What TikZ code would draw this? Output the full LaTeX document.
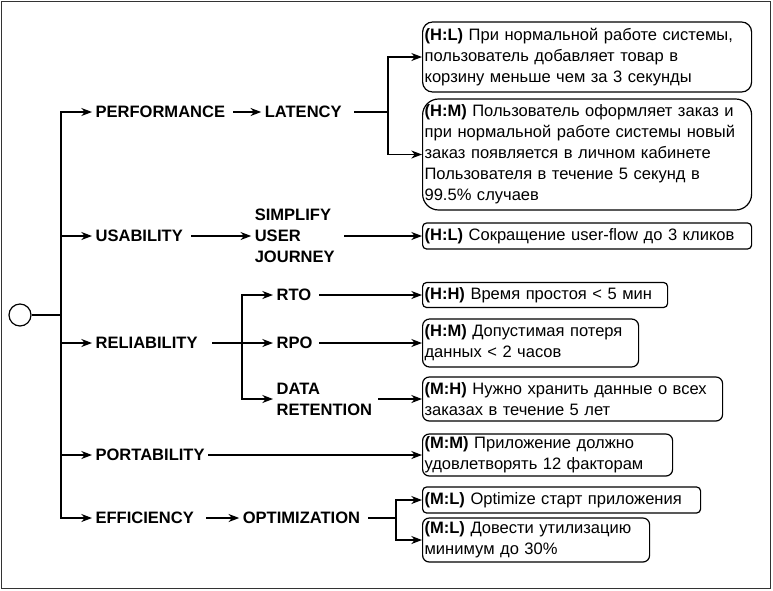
\documentclass[tikz,border=0pt]{standalone}
\usepackage{fontspec}
\setmainfont{Liberation Sans}
\usepackage{tikz}
\usetikzlibrary{positioning}
\usetikzlibrary{arrows.meta}
\newcommand{\diagfont}{\fontsize{12.4}{15.75}\selectfont}
\tikzset{
root/.style={draw,circle,minimum size=16.5pt,inner sep=0pt},
attr/.style={font=\diagfont\bfseries,align=left,inner xsep=2.25pt,inner ysep=0pt},
req/.style={draw,rounded corners=#1,align=left,anchor=west,inner xsep=1.5pt,inner ysep=0pt},
req/.default=3pt,
flow/.style={-{Stealth[length=8pt,width=6pt,inset=2.5pt]}},
frame/.style={draw=black!80,line width=0.75pt},
}

\begin{document}
\begin{tikzpicture}[x=0.75pt,y=-0.75pt,line width=0.9pt,font=\diagfont]
\useasboundingbox (0,0) rectangle (773,590);
\draw[frame] (1.5,1.5) rectangle (770.5,588);

\node[root] (root) at (20,315) {};
\coordinate (tr) at (61,315);

%
\node[attr,anchor=west,text width=100.5pt] (perf) at (92,112) {PERFORMANCE};
\node[attr,text width=64.5pt,right=21pt of perf] (lat) {LATENCY};
\coordinate (lj) at (388,112);
\node[req=7.5pt,text width=243.75pt,minimum height=52.5pt] (lat1) at (422,57)
  {\textbf{(H:L)} При нормальной работе системы,\\пользователь добавляет товар в\\корзину меньше чем за 3 секунды};
\node[req=12pt,text width=243.75pt,minimum height=83.25pt] (lat2) at (422,154.5)
  {\textbf{(H:M)} Пользователь оформляет заказ и\\при нормальной работе системы новый\\заказ появляется в личном кабинете\\Пользователя в течение 5 секунд в\\99.5\% случаев};

%
\node[attr,anchor=west,text width=69pt] (usab) at (92,236) {USABILITY};
\node[attr,text width=64.5pt,right=45pt of usab] (suj) {SIMPLIFY\\USER\\JOURNEY};
\node[req,text width=243.75pt,minimum height=19.5pt] (usr) at (422,236)
  {\textbf{(H:L)} Сокращение user-flow до 3 кликов};

%
\node[attr,anchor=west,text width=84.75pt] (reli) at (92,343) {RELIABILITY};
\coordinate (rj) at (242,343);
\node[attr,anchor=west,text width=29.25pt] (rto) at (273,295) {RTO};
\node[attr,anchor=west,text width=29.25pt] (rpo) at (273,343) {RPO};
\node[attr,anchor=west,text width=73.5pt] (ret) at (273,399) {DATA\\RETENTION};
\node[req,text width=180.75pt,minimum height=18.75pt] (rtob) at (422,295)
  {\textbf{(H:H)} Время простоя < 5 мин};
\node[req=5.25pt,text width=159pt,minimum height=36pt] (rpob) at (422,343)
  {\textbf{(H:M)} Допустимая потеря\\данных < 2 часов};
\node[req=5pt,text width=222pt,minimum height=33pt] (retb) at (422,399)
  {\textbf{(M:H)} Нужно хранить данные о всех\\заказах в течение 5 лет};

%
\node[attr,anchor=west] (port) at (92,455) {PORTABILITY};
\node[req=5pt,text width=184.5pt,minimum height=31.5pt] (portb) at (422,455)
  {\textbf{(M:M)} Приложение должно\\удовлетворять 12 факторам};

%
\node[attr,anchor=west,text width=80.25pt] (eff) at (92,518) {EFFICIENCY};
\node[attr,text width=91.5pt,right=24.75pt of eff] (optz) {OPTIMIZATION};
\coordinate (oj) at (396,518);
\node[req,text width=205.5pt,minimum height=19.5pt] (opt1) at (422,500)
  {\textbf{(M:L)} Optimize старт приложения};
\node[req=5pt,text width=167.25pt,minimum height=33pt] (opt2) at (422,540)
  {\textbf{(M:L)} Довести утилизацию\\минимум до 30\%};

%
\draw (root) -- (tr);
\draw[flow] (tr) |- (perf);
\draw[flow] (tr) |- (usab);
\draw[flow] (tr) |- (reli);
\draw[flow] (tr) |- (port);
\draw[flow] (tr) |- (eff);

%
\draw[flow] (perf) -- (lat);
\draw (lat.east) -- (lj);
\draw[flow] (lj) |- (lat1);
\draw[flow] (lj) |- (lat2);

\draw[flow] (usab) -- (suj);
\draw[flow] (suj) -- (usr);

\draw (reli) -- (rj);
\draw[flow] (rj) |- (rto);
\draw[flow] (rj) -- (rpo);
\draw[flow] (rj) |- (ret);
\draw[flow] (rto) -- (rtob);
\draw[flow] (rpo) -- (rpob);
\draw[flow] (ret) -- (retb);

\draw[flow] (port) -- (portb);

\draw[flow] (eff) -- (optz);
\draw (optz.east) -- (oj);
\draw[flow] (oj) |- (opt1);
\draw[flow] (oj) |- (opt2);
\end{tikzpicture}
\end{document}
